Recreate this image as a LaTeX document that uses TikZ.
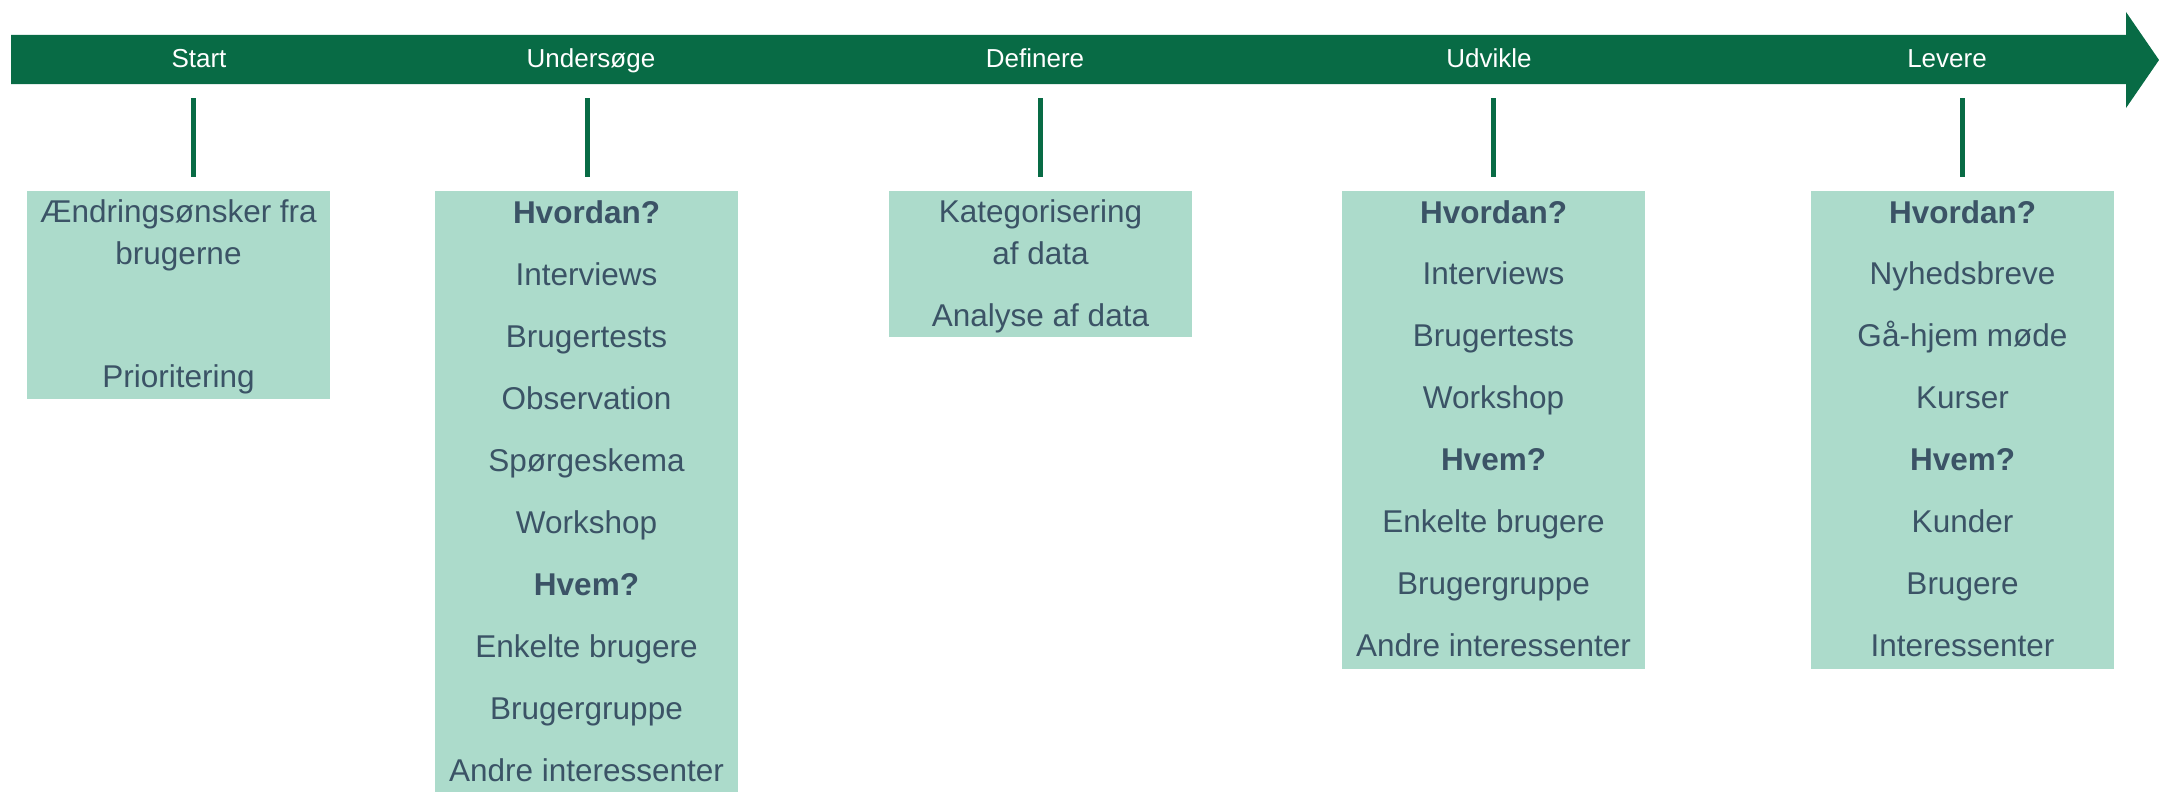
\documentclass[tikz,border=0pt]{standalone}
\usepackage{fontspec}
\setmainfont{Liberation Sans}
\usepackage{tikz}
\usetikzlibrary{positioning}

\definecolor{barGreen}{HTML}{086B45}
\definecolor{boxMint}{HTML}{ACDBCB}
\definecolor{textSlate}{HTML}{3B5366}

\begin{document}
\begin{tikzpicture}[x=1pt, y=-1pt,
    phase/.style={text=white, font=\fontsize{26}{30}\selectfont, anchor=base, inner sep=0pt},
    card/.style={fill=boxMint, draw=none, minimum width=303pt, anchor=north, inner sep=0pt},
    item/.style={text=textSlate, font=\fontsize{31.5}{40}\selectfont, anchor=base, inner sep=0pt},
    tick/.style={barGreen, line width=5pt}]
            \useasboundingbox (0,0) rectangle (2159,792);

            % Timeline arrow
            \fill[barGreen] (11,35) -- (2126,35) -- (2126,12) -- (2159,60)
                -- (2126,108) -- (2126,84) -- (11,84) -- cycle;

            % Phases
            \foreach \x/\name/\lbl in {199/start/Start, 591/unders/Undersøge,
                1035/definere/Definere, 1489/udvikle/Udvikle, 1947/levere/Levere} {
                \node[phase] (\name) at (\x,67) {\lbl};
            }

            % Ticks
            \foreach \x [count=\i] in {193,587,1040,1493,1962} {
                \coordinate (top\i) at (\x,98);
                \coordinate (bot\i) at (\x,177);
                \draw[tick] (top\i) -- (bot\i);
            }

            % Cards
            \node[card, minimum height=208pt] (card1) at (178.5,191) {};
            \node[card, minimum height=601pt] (card2) at (586.5,191) {};
            \node[card, minimum height=146pt] (card3) at (1040.5,191) {};
            \node[card, minimum height=478pt] (card4) at (1493.5,191) {};
            \node[card, minimum height=478pt] (card5) at (1962.5,191) {};

            % Start
            \node[item] (a1) at (178.5,222) {Ændringsønsker fra};
            \node[item] (a2) at (178.5,264.5) {brugerne};
            \node[item] (a3) at (178.5,387) {Prioritering};

            % Undersøge
            \foreach \txt [count=\i] in {{\textbf{Hvordan?}}, Interviews, Brugertests,
                Observation, Spørgeskema, Workshop, {\textbf{Hvem?}},
                Enkelte brugere, Brugergruppe, Andre interessenter} {
                \node[item] (u\i) at (586.5,{223+62.1*(\i-1)}) {\txt};
            }

            % Definere
            \node[item] (c1) at (1040.5,222) {Kategorisering};
            \node[item] (c2) at (1040.5,264.5) {af data};
            \node[item] (c3) at (1040.5,326) {Analyse af data};

            % Udvikle
            \foreach \txt [count=\i] in {{\textbf{Hvordan?}}, Interviews, Brugertests,
                Workshop, {\textbf{Hvem?}}, Enkelte brugere, Brugergruppe,
                Andre interessenter} {
                \node[item] (d\i) at (1493.5,{223+61.9*(\i-1)}) {\txt};
            }

            % Levere
            \foreach \txt [count=\i] in {{\textbf{Hvordan?}}, Nyhedsbreve, Gå-hjem møde,
                Kurser, {\textbf{Hvem?}}, Kunder, Brugere, Interessenter} {
                \node[item] (l\i) at (1962.5,{223+61.9*(\i-1)}) {\txt};
            }
        \end{tikzpicture}
\end{document}
